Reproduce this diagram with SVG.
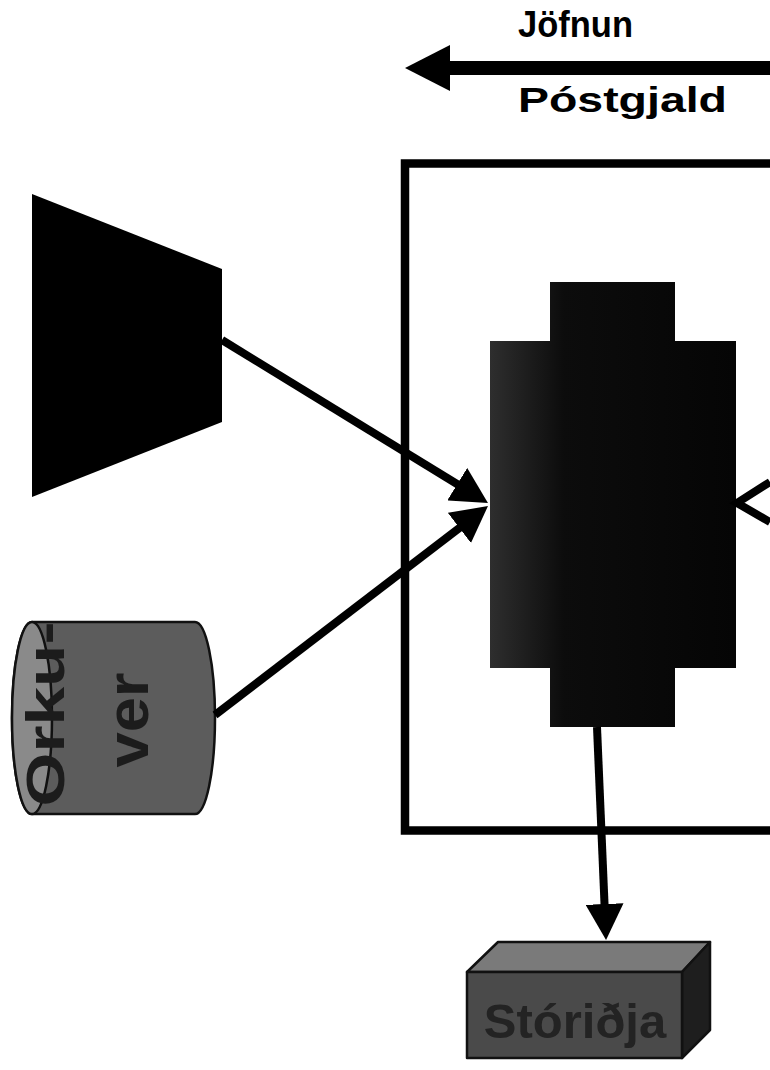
<svg xmlns="http://www.w3.org/2000/svg" width="770" height="1070" viewBox="0 0 770 1070">
  <style>
    .lbl { font-family: "Liberation Sans", Arial, sans-serif; font-weight: bold; }
    .conn { stroke: #000; stroke-width: 8; fill: none; }
    .edge { stroke: #111; stroke-width: 2.5; stroke-linejoin: round; }
  </style>
  <defs>
    <marker id="ah" markerUnits="userSpaceOnUse" markerWidth="38" markerHeight="38" refX="16" refY="19" orient="auto">
      <path d="M0,0 L36,19 L0,38 Z" fill="#000"/>
    </marker>
    <linearGradient id="coreGrad" x1="490" y1="0" x2="736" y2="0" gradientUnits="userSpaceOnUse">
      <stop offset="0" stop-color="#2e2e2e"/>
      <stop offset="0.3" stop-color="#0c0c0c"/>
      <stop offset="1" stop-color="#050505"/>
    </linearGradient>
  </defs>
  <rect width="770" height="1070" fill="#fff"/>

  <!-- top flow arrow with labels -->
  <g id="flow">
    <line x1="770" y1="68" x2="440" y2="68" stroke="#000" stroke-width="14"/>
    <polygon points="405,68 450,45 450,91" fill="#000"/>
    <text class="lbl" x="518" y="37" font-size="36" textLength="115" lengthAdjust="spacingAndGlyphs">Jöfnun</text>
    <text class="lbl" x="518" y="112" font-size="35" textLength="209" lengthAdjust="spacingAndGlyphs">Póstgjald</text>
  </g>

  <!-- frame -->
  <g id="frame">
    <rect x="405" y="163.5" width="480" height="667" fill="none" stroke="#000" stroke-width="8.5"/>
  </g>

  <!-- trapezoid source -->
  <g id="source">
    <polygon points="32,194 222,269 222,422 32,497" fill="#000"/>
  </g>

  <!-- cylinder Orkuver -->
  <g id="orkuver">
    <path class="edge" d="M32,622 L195,622 A20,96 0 0 1 195,814 L32,814 A20,96 0 0 1 32,622 Z" fill="#5c5c5c"/>
    <ellipse class="edge" cx="32" cy="718" rx="20" ry="96" fill="#8a8a8a"/>
    <text class="lbl" font-size="54" fill="#1c1c1c" text-anchor="middle" textLength="185" lengthAdjust="spacingAndGlyphs" transform="translate(64,714) rotate(-90)">Orku-</text>
    <text class="lbl" font-size="60" fill="#1c1c1c" text-anchor="middle" textLength="95" lengthAdjust="spacingAndGlyphs" transform="translate(148,720) rotate(-90)">ver</text>
  </g>

  <!-- central cross shape -->
  <g id="core">
    <polygon points="550,282 675,282 675,341 736,341 736,668 675,668 675,727 550,727 550,668 490,668 490,341 550,341" fill="url(#coreGrad)"/>
  </g>

  <!-- storage box -->
  <g id="storidja">
    <polygon class="edge" points="467,972 498,942 710,942 682,972" fill="#7a7a7a"/>
    <polygon class="edge" points="682,972 710,942 710,1030 682,1058" fill="#1e1e1e"/>
    <rect class="edge" x="467" y="972" width="215" height="86" fill="#4a4a4a"/>
    <text class="lbl" x="575" y="1038" font-size="49" fill="#232323" text-anchor="middle">Stóriðja</text>
  </g>

  <!-- connectors -->
  <g id="connectors">
    <path class="conn" d="M222,340 L470.9,492.5" marker-end="url(#ah)"/>
    <path class="conn" d="M215,715 L472.1,518.2" marker-end="url(#ah)"/>
    <path class="conn" d="M597,727 L605.2,920" marker-end="url(#ah)"/>
    <path class="conn" d="M770,482 L737,503 L770,522" stroke-linejoin="miter"/>
  </g>
</svg>
